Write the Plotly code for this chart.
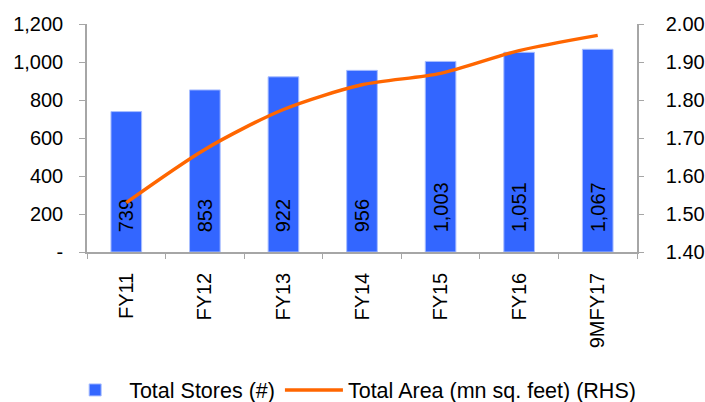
import plotly.graph_objects as go

# Store network and retail area by fiscal year
categories = ["FY11", "FY12", "FY13", "FY14", "FY15", "FY16", "9MFY17"]
total_stores = [739, 853, 922, 956, 1003, 1051, 1067]
total_area = [1.53, 1.67, 1.775, 1.84, 1.87, 1.93, 1.97]

left_ticks = [0, 200, 400, 600, 800, 1000, 1200]
left_ticktext = ["-", "200", "400", "600", "800", "1,000", "1,200"]
right_ticks = [1.4, 1.5, 1.6, 1.7, 1.8, 1.9, 2.0]

FONT = "Liberation Sans, Arial, sans-serif"
AXIS_GREY = "#A6A6A6"
TICK_SIZE = 20

fig = go.Figure()

fig.add_trace(go.Bar(
    x=categories,
    y=total_stores,
    name="Total Stores (#)",
    width=0.39,
    marker=dict(color="#3366FF", line=dict(color="#A9BEFF", width=1)),
    texttemplate="\u00a0\u00a0\u00a0%{y:,}",
    textposition="inside",
    insidetextanchor="start",
    textangle=-90,
    constraintext="none",
    insidetextfont=dict(family=FONT, size=TICK_SIZE, color="black"),
    cliponaxis=False,
))

fig.add_trace(go.Scatter(
    x=categories,
    y=total_area,
    name="Total Area (mn sq. feet) (RHS)",
    yaxis="y2",
    mode="lines",
    line=dict(color="#FF6600", width=3.5, shape="spline", smoothing=0.8),
))

fig.update_layout(
    width=705,
    height=402,
    margin=dict(l=87, r=68, t=24, b=150, autoexpand=False),
    paper_bgcolor="white",
    plot_bgcolor="white",
    font=dict(family=FONT, size=TICK_SIZE, color="black"),
    showlegend=True,
    legend=dict(
        orientation="h",
        x=-0.047,
        xanchor="left",
        y=-0.605,
        yanchor="middle",
        font=dict(family=FONT, size=21.5, color="black"),
        itemwidth=58,
        tracegroupgap=0,
    ),
    xaxis=dict(
        type="category",
        tickangle=-90,
        showline=True,
        linecolor=AXIS_GREY,
        linewidth=1.5,
        ticks="outside",
        tickson="boundaries",
        ticklen=5,
        tickcolor=AXIS_GREY,
        ticklabelstandoff=11,
        showgrid=False,
        tickfont=dict(family=FONT, size=TICK_SIZE, color="black"),
    ),
    yaxis=dict(
        range=[0, 1200],
        tickvals=left_ticks,
        ticktext=left_ticktext,
        showline=True,
        linecolor=AXIS_GREY,
        linewidth=1.5,
        ticks="outside",
        ticklen=6,
        tickcolor=AXIS_GREY,
        ticklabelstandoff=12,
        showgrid=False,
        zeroline=False,
        tickfont=dict(family=FONT, size=TICK_SIZE, color="black"),
    ),
    yaxis2=dict(
        overlaying="y",
        side="right",
        range=[1.4, 2.0],
        tickvals=right_ticks,
        tickformat=".2f",
        showline=True,
        linecolor=AXIS_GREY,
        linewidth=1.5,
        ticks="outside",
        ticklen=5,
        tickcolor=AXIS_GREY,
        ticklabelstandoff=18,
        showgrid=False,
        zeroline=False,
        tickfont=dict(family=FONT, size=TICK_SIZE, color="black"),
    ),
)

fig.write_html("out.html")
